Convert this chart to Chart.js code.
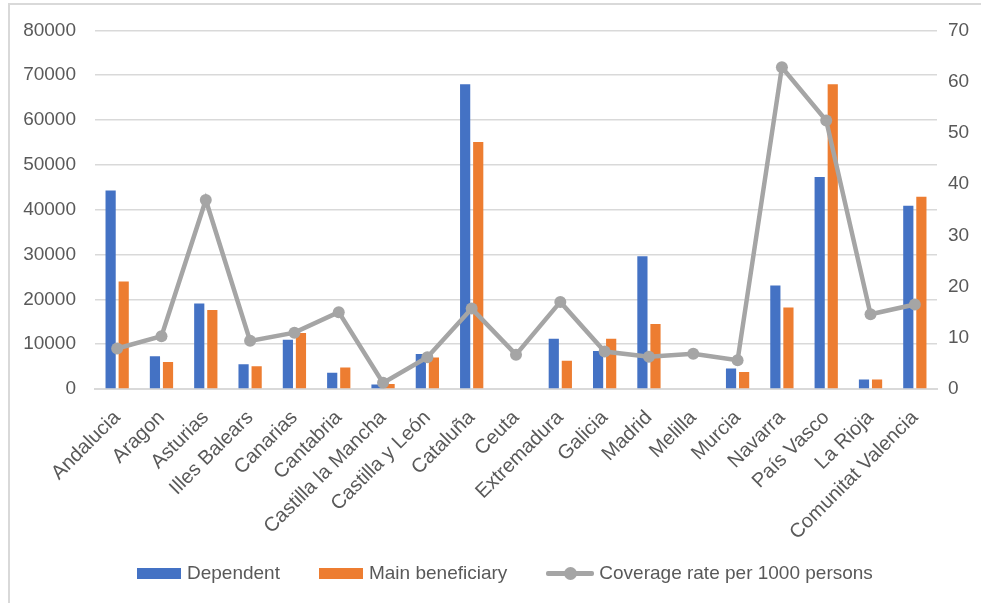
<!DOCTYPE html>
<html>
<head>
<meta charset="utf-8">
<script src="https://cdn.jsdelivr.net/npm/chart.js@4"></script>
<style>
  html, body { margin: 0; padding: 0; background: #fff; }
  body { width: 981px; height: 603px; position: relative; overflow: hidden; font-family: 'Liberation Sans', Arial, sans-serif; }
  .frame { position: absolute; left: 8px; top: 3px; width: 1000px; height: 700px; border-left: 2px solid #d9d9d9; border-top: 2px solid #d9d9d9; }
  .wrap { position: absolute; left: 0; top: 0; width: 981px; height: 603px; }
  .legend { position: absolute; left: 137px; top: 562px; display: flex; align-items: center; color: #595959; font-size: 19px; }
  .legend .item { display: flex; align-items: center; margin-right: 39px; }
  .legend .box { width: 44px; height: 11px; margin-right: 6px; }
  .legend .ln { position: relative; width: 48px; height: 5px; background: #a5a5a5; margin-right: 5px; border-radius: 2px; }
  .legend .ln::after { content: ''; position: absolute; left: 18px; top: -4px; width: 13px; height: 13px; border-radius: 50%; background: #a5a5a5; }
</style>
</head>
<body>
<div class="frame"></div>
<div class="wrap"><canvas id="chart" width="981" height="603"></canvas></div>
<div class="legend">
  <div class="item"><span class="box" style="background:#4472c4"></span>Dependent</div>
  <div class="item"><span class="box" style="background:#ed7d31"></span>Main beneficiary</div>
  <div class="item"><span class="ln"></span>Coverage rate per 1000 persons</div>
</div>
<script>
// regiones
const regions = ['Andalucia', 'Aragon', 'Asturias', 'Illes Balears', 'Canarias', 'Cantabria',
    'Castilla la Mancha', 'Castilla y León', 'Cataluña', 'Ceuta', 'Extremadura', 'Galicia',
    'Madrid', 'Melilla', 'Murcia', 'Navarra', 'País Vasco', 'La Rioja', 'Comunitat Valencia'];

const dependent = [44300, 7300, 19100, 5500, 11000, 3600, 1000, 7800, 68000, 0, 11200, 8500,
    29600, 0, 4600, 23100, 47300, 2100, 40900];

const mainBeneficiary = [24000, 6000, 17600, 5100, 12500, 4800, 1100, 7000, 55100, 0, 6300, 11200,
    14500, 0, 3800, 18200, 68000, 2100, 42900];

const coverageRate = [7.9, 10.3, 36.9, 9.4, 11.0, 15.0, 1.2, 6.2, 15.7, 6.7, 17.0, 7.3,
    6.3, 6.9, 5.6, 62.8, 52.4, 14.6, 16.5];

const textColor = '#595959';
const gridColor = '#d9d9d9';
const font = { family: "'Liberation Sans', Arial, sans-serif", size: 19 };
const xFont = { family: "'Liberation Sans', Arial, sans-serif", size: 20 };

const ctx = document.getElementById('chart').getContext('2d');
new Chart(ctx, {
    data: {
        labels: regions,
        datasets: [
            {
                type: 'line',
                label: 'Coverage rate per 1000 persons',
                data: coverageRate,
                yAxisID: 'y1',
                borderColor: '#a5a5a5',
                backgroundColor: '#a5a5a5',
                borderWidth: 4.5,
                pointRadius: 6,
                pointBackgroundColor: '#a5a5a5',
                pointBorderWidth: 0,
                tension: 0,
                order: 0
            },
            {
                type: 'bar',
                label: 'Dependent',
                data: dependent,
                yAxisID: 'y',
                backgroundColor: '#4472c4',
                categoryPercentage: 0.59,
                barPercentage: 0.78,
                order: 1
            },
            {
                type: 'bar',
                label: 'Main beneficiary',
                data: mainBeneficiary,
                yAxisID: 'y',
                backgroundColor: '#ed7d31',
                categoryPercentage: 0.59,
                barPercentage: 0.78,
                order: 1
            }
        ]
    },
    options: {
        responsive: false,
        animation: false,
        layout: { padding: { top: 29, right: 0, bottom: 0, left: 0 } },
        plugins: {
            legend: { display: false },
            tooltip: { enabled: false }
        },
        scales: {
            x: {
                grid: { display: false },
                border: { color: gridColor, width: 2 },
                ticks: { color: textColor, font: xFont, minRotation: 45, maxRotation: 45, padding: 9, autoSkip: false },
                afterFit: (scale) => { scale.height = 214; }
            },
            y: {
                position: 'left',
                min: 0,
                max: 80000,
                ticks: { stepSize: 10000, color: textColor, font: font, padding: 19, callback: (v) => String(v) },
                grid: { color: gridColor, lineWidth: 1.5, drawTicks: false },
                border: { display: false },
                afterFit: (scale) => { scale.width = 95; }
            },
            y1: {
                position: 'right',
                min: 0,
                max: 70,
                ticks: { stepSize: 10, color: textColor, font: font, padding: 11 },
                grid: { display: false, drawTicks: false },
                border: { display: false },
                afterFit: (scale) => { scale.width = 44; }
            }
        }
    }
});
</script>
</body>
</html>
